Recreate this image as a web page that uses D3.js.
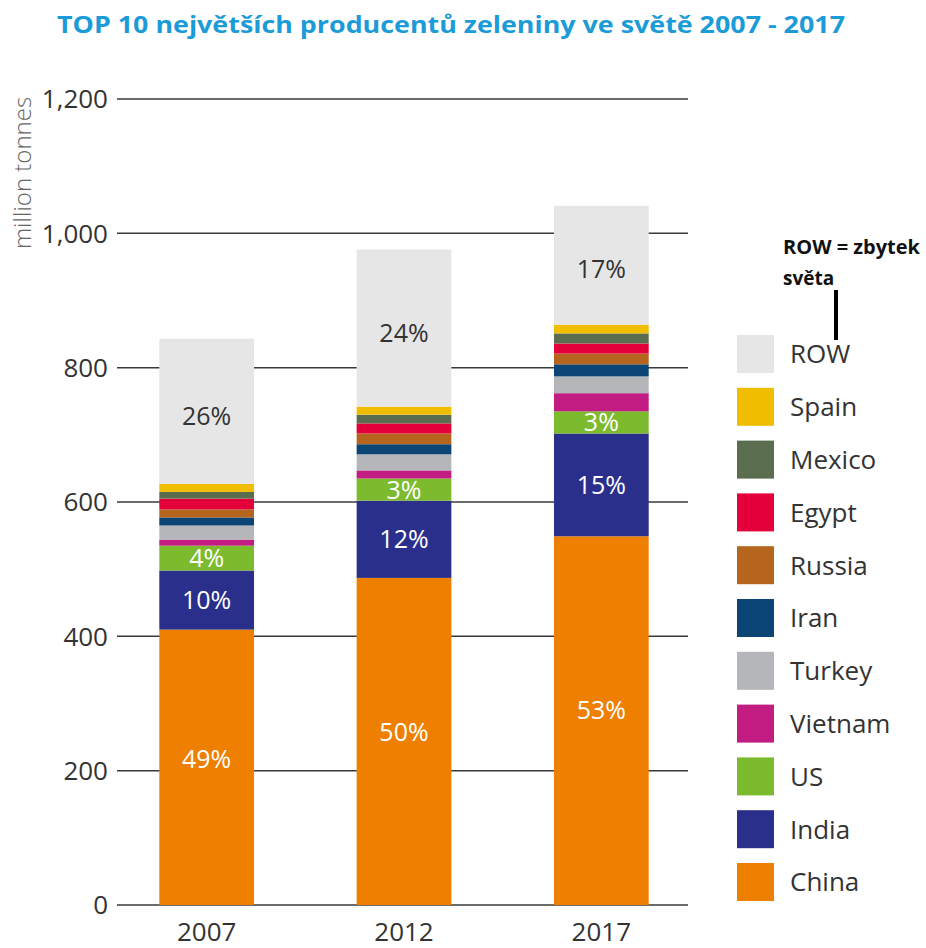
<!DOCTYPE html>
<html>
<head>
<meta charset="utf-8">
<script src="https://cdn.jsdelivr.net/npm/d3@7"></script>
<style>
  html, body { margin: 0; padding: 0; background: #fff; }
  svg { display: block; font-family: "Open Sans", "Noto Sans", sans-serif; }
</style>
</head>
<body>
<svg id="chart" width="926" height="948"></svg>
<script>
// Vegetable production, million tonnes
const years = ["2007", "2012", "2017"];
const countries = ["China", "India", "US", "Vietnam", "Turkey", "Iran", "Russia", "Egypt", "Mexico", "Spain", "ROW"];
const china   = [410, 487, 549];
const india   = [88, 115, 153];
const us      = [37, 33, 33];
const vietnam = [9, 12, 27];
const turkey  = [21, 24, 25];
const iran    = [12, 15, 18];
const russia  = [12, 16, 16];
const egypt   = [16, 15, 15];
const mexico  = [10, 13, 15];
const spain   = [12, 12, 13];
const row     = [216, 234, 177];
const colors  = ["#ee7f00", "#2b2f8c", "#7dbb2e", "#c21c82", "#b4b6b9", "#0a4575", "#b5651d", "#e4003a", "#5a6e4f", "#f0bd00", "#e6e6e6"];
const yTicks  = [0, 200, 400, 600, 800, 1000, 1200];
// series whose share is printed inside the bar
const labelled = ["China", "India", "US", "ROW"];

const seriesValues = [china, india, us, vietnam, turkey, iran, russia, egypt, mexico, spain, row];
const table = years.map((yr, i) => {
  const o = { year: yr };
  countries.forEach((c, k) => { o[c] = seriesValues[k][i]; });
  o.total = d3.sum(countries, c => o[c]);
  return o;
});

const svg = d3.select("#chart");

// title
svg.append("text")
  .attr("x", 57).attr("y", 33)
  .attr("textLength", 788).attr("lengthAdjust", "spacingAndGlyphs")
  .attr("font-size", 24).attr("font-weight", 700)
  .attr("fill", "#1b9bd7")
  .text("TOP 10 největších producentů zeleniny ve světě 2007 - 2017");

const x = d3.scaleBand().domain(years).range([108, 700]).paddingInner(0.52).paddingOuter(0.26);
const y = d3.scaleLinear().domain([0, 1200]).range([905, 99]);

// gridlines
svg.append("g").selectAll("line").data(yTicks).join("line")
  .attr("x1", 117).attr("x2", 688)
  .attr("y1", d => y(d)).attr("y2", d => y(d))
  .attr("stroke", "#3a3a3a").attr("stroke-width", 1.5);

// y tick labels
svg.append("g").selectAll("text").data(yTicks).join("text")
  .attr("x", 108).attr("y", d => y(d)).attr("dy", "0.36em")
  .attr("text-anchor", "end").attr("font-size", 26).attr("fill", "#333")
  .text(d => d3.format(",")(d));

// y axis title
svg.append("text")
  .attr("transform", "translate(31,173) rotate(-90)")
  .attr("text-anchor", "middle").attr("font-size", 24).attr("font-weight", 300).attr("fill", "#666")
  .text("million tonnes");

// stacked bars
const stack = d3.stack().keys(countries)(table);
const layers = svg.append("g").selectAll("g").data(stack).join("g")
  .attr("fill", (d, i) => colors[i]);
layers.selectAll("rect").data(d => d).join("rect")
  .attr("x", d => x(d.data.year))
  .attr("width", x.bandwidth())
  .attr("y", d => y(d[1]))
  .attr("height", d => y(d[0]) - y(d[1]));

// share labels
const labelPos = { China: 0.53, India: 0.5, US: 0.5, ROW: 0.47 };
stack.filter(s => labelled.includes(s.key)).forEach(s => {
  svg.append("g").selectAll("text").data(s).join("text")
    .attr("x", d => x(d.data.year) + x.bandwidth() / 2)
    .attr("y", d => y(d[0] + (d[1] - d[0]) * labelPos[s.key]))
    .attr("dy", "0.36em")
    .attr("text-anchor", "middle").attr("font-size", 25)
    .attr("fill", s.key === "ROW" ? "#333" : "#fff")
    .text(d => Math.round((d[1] - d[0]) / d.data.total * 100) + "%");
});

// x labels
svg.append("g").selectAll("text").data(years).join("text")
  .attr("x", d => x(d) + x.bandwidth() / 2).attr("y", 941)
  .attr("text-anchor", "middle").attr("font-size", 26).attr("fill", "#333")
  .text(d => d);

// legend, top to bottom from ROW down to China
const legendItems = countries.slice().reverse();
const lg = svg.append("g").selectAll("g").data(legendItems).join("g")
  .attr("transform", (d, i) => `translate(737,${335 + i * 52.8})`);
lg.append("rect").attr("width", 37).attr("height", 38)
  .attr("fill", d => colors[countries.indexOf(d)]);
lg.append("text").attr("x", 53).attr("y", 19).attr("dy", "0.36em")
  .attr("font-size", 26).attr("fill", "#333")
  .text(d => d);

// note about ROW
svg.append("text").attr("x", 783).attr("y", 254)
  .attr("font-size", 19).attr("font-weight", 700).attr("fill", "#111")
  .attr("textLength", 137).attr("lengthAdjust", "spacingAndGlyphs")
  .text("ROW = zbytek");
svg.append("text").attr("x", 783).attr("y", 285)
  .attr("font-size", 19).attr("font-weight", 700).attr("fill", "#111")
  .text("světa");
svg.append("line").attr("x1", 836).attr("x2", 836).attr("y1", 290).attr("y2", 340)
  .attr("stroke", "#000").attr("stroke-width", 4);
</script>
</body>
</html>
